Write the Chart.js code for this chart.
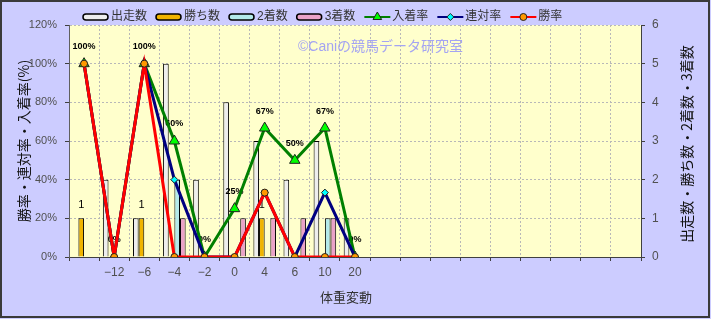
<!DOCTYPE html>
<html>
<head>
<meta charset="utf-8">
<script src="https://cdn.jsdelivr.net/npm/chart.js@4/dist/chart.umd.min.js"></script>
<style>
  html, body { margin: 0; padding: 0; background: #fff; }
  canvas { display: block; }
</style>
</head>
<body>
<canvas id="chart" width="711" height="319"></canvas>
<script>
const categories = ['', '−12', '−6', '−4', '−2', '0', '4', '6', '10', '20', '', '', '', '', '', '', '', '', ''];
const runs = [0, 2, 1, 5, 2, 4, 3, 2, 3, 1];
const wins = [1, 0, 1, 0, 0, 0, 1, 0, 0, 0];
const seconds = [0, 0, 0, 2, 0, 0, 0, 0, 1, 0];
const thirds = [0, 0, 0, 1, 0, 1, 1, 1, 1, 0];
const placeRate = [100, 0, 100, 60, 0, 25, 66.7, 50, 66.7, 0];
const quinellaRate = [100, 0, 100, 40, 0, 0, 33.3, 0, 33.3, 0];
const winRate = [100, 0, 100, 0, 0, 0, 33.3, 0, 0, 0];

const FONT = "'Liberation Sans', 'Noto Sans CJK JP', sans-serif";
const CJK = "'Noto Sans CJK JP', sans-serif";

const bar = (label, data, color) => ({
  type: 'bar', label, data, yAxisID: 'y2', order: 10,
  backgroundColor: color, borderColor: '#000', borderWidth: 1,
  categoryPercentage: 0.75, barPercentage: 1,
});

const line = (label, data, color, marker, fill, radius, order) => ({
  type: 'line', label, data, yAxisID: 'y', order,
  borderColor: color, borderWidth: 3, tension: 0,
  pointStyle: marker, pointRadius: radius, pointBackgroundColor: fill,
  pointBorderColor: '#222', pointBorderWidth: 1,
});

const datasets = [
  bar('出走数', runs, '#eeeeee'),
  bar('勝ち数', wins, '#f0b400'),
  bar('2着数', seconds, '#b4eaea'),
  bar('3着数', thirds, '#eaa2c8'),
  line('入着率', placeRate, '#008000', 'triangle', '#00ff00', 6, 3),
  line('連対率', quinellaRate, '#000080', 'rectRot', '#00ffff', 3.5, 2),
  line('勝率', winRate, '#ff0000', 'circle', '#ff9900', 3.5, 1),
];

function marker(ctx, style, x, y, r, fill) {
  ctx.beginPath();
  if (style === 'triangle') {
    ctx.moveTo(x, y - r);
    ctx.lineTo(x + r * 0.866, y + r / 2);
    ctx.lineTo(x - r * 0.866, y + r / 2);
    ctx.closePath();
  } else if (style === 'rectRot') {
    ctx.moveTo(x, y - r); ctx.lineTo(x + r, y); ctx.lineTo(x, y + r); ctx.lineTo(x - r, y);
    ctx.closePath();
  } else {
    ctx.arc(x, y, r, 0, Math.PI * 2);
  }
  ctx.fillStyle = fill;
  ctx.fill();
  ctx.lineWidth = 1;
  ctx.strokeStyle = '#222';
  ctx.stroke();
}

let labelsDrawn = false;

const decor = {
  id: 'decor',
  beforeDraw(chart) {
    const { ctx, chartArea: a, width, height } = chart;
    ctx.save();
    ctx.fillStyle = '#ccccff';
    ctx.fillRect(0, 0, width, height);
    ctx.fillStyle = '#ffffcc';
    ctx.fillRect(a.left, a.top, a.right - a.left, a.bottom - a.top);
    ctx.restore();
  },
  beforeDatasetsDraw(chart) {
    const { ctx } = chart;
    labelsDrawn = false;
    ctx.save();
    ctx.font = '14px ' + FONT;
    ctx.fillStyle = '#a4a4f2';
    ctx.textBaseline = 'middle';
    ctx.fillText('©Caniの競馬データ研究室', 298, 47);
    ctx.restore();
  },
  beforeDatasetDraw(chart, args) {
    if (labelsDrawn || args.meta.type !== 'line') return;
    labelsDrawn = true;
    const { ctx } = chart;
    ctx.save();
    ctx.fillStyle = '#000';
    ctx.textAlign = 'center';
    ctx.textBaseline = 'middle';
    ctx.font = 'bold 9px ' + FONT;
    chart.getDatasetMeta(4).data.forEach((p, i) => {
      if (placeRate[i] == null) return;
      ctx.fillText(Math.round(placeRate[i]) + '%', p.x, p.y - 17);
    });
    ctx.font = '11px ' + FONT;
    chart.getDatasetMeta(1).data.forEach((b, i) => {
      if (!wins[i]) return;
      ctx.fillText(String(wins[i]), b.x, b.y - 13);
    });
    ctx.restore();
  },
  afterDraw(chart) {
    const { ctx, width, height } = chart;
    ctx.save();
    // outer frame
    ctx.strokeStyle = '#3a3a3a';
    ctx.lineWidth = 2;
    ctx.strokeRect(1, 1, width - 3, height - 3);

    // legend
    ctx.font = '12px ' + FONT;
    ctx.textBaseline = 'middle';
    let x = 83;
    const y = 17;
    datasets.forEach(ds => {
      if (ds.type === 'bar') {
        ctx.beginPath();
        ctx.roundRect(x, y - 3, 25, 6, 3);
        ctx.fillStyle = ds.backgroundColor;
        ctx.fill();
        ctx.lineWidth = 1.5;
        ctx.strokeStyle = '#000';
        ctx.stroke();
      } else {
        ctx.beginPath();
        ctx.moveTo(x, y); ctx.lineTo(x + 26, y);
        ctx.lineWidth = 2;
        ctx.strokeStyle = ds.borderColor;
        ctx.stroke();
        marker(ctx, ds.pointStyle, x + 13, y, ds.pointStyle === 'triangle' ? 5 : 3.5, ds.pointBackgroundColor);
      }
      ctx.fillStyle = '#333';
      ctx.fillText(ds.label, x + 28, y);
      x += 28 + ctx.measureText(ds.label).width + 9;
    });

    // axis titles
    ctx.fillStyle = '#111';
    ctx.font = '14px ' + CJK;
    ctx.textAlign = 'center';
    ctx.save();
    ctx.translate(24, 141);
    ctx.rotate(-Math.PI / 2);
    ctx.fillText('勝率・連対率・入着率(%)', 0, 0);
    ctx.restore();
    ctx.save();
    ctx.translate(687, 144);
    ctx.rotate(-Math.PI / 2);
    ctx.fillText('出走数・勝ち数・2着数・3着数', 0, 0);
    ctx.restore();
    ctx.font = '13px ' + CJK;
    ctx.fillStyle = '#333';
    ctx.fillText('体重変動', 346, 297);
    ctx.restore();
  },
};

new Chart(document.getElementById('chart'), {
  data: { labels: categories, datasets },
  options: {
    responsive: false,
    animation: false,
    devicePixelRatio: 1,
    layout: { padding: { top: 25, left: 0, right: 0, bottom: 0 } },
    plugins: { legend: { display: false }, tooltip: { enabled: false } },
    scales: {
      x: {
        offset: true,
        afterFit: s => { s.height = 62; },
        grid: { color: '#b8b8b8', offset: true, tickLength: 4, tickColor: '#404040' },
        border: { color: '#404040', dash: [2, 2] },
        ticks: { color: '#505050', font: { size: 12, family: FONT }, padding: 4, maxRotation: 0, autoSkip: false },
      },
      y: {
        position: 'left', min: 0, max: 120,
        afterFit: s => { s.width = 69; },
        grid: { color: '#b8b8b8', tickLength: 4, tickColor: '#404040' },
        border: { color: '#606060', dash: [2, 2] },
        ticks: { stepSize: 20, color: '#505050', font: { size: 11, family: FONT }, padding: 8, callback: v => v + '%' },
      },
      y2: {
        position: 'right', min: 0, max: 6,
        afterFit: s => { s.width = 70; },
        grid: { drawOnChartArea: false, tickLength: 4, tickColor: '#404040' },
        border: { color: '#404040' },
        ticks: { stepSize: 1, color: '#505050', font: { size: 12, family: FONT }, padding: 7 },
      },
    },
  },
  plugins: [decor],
});
</script>
</body>
</html>
